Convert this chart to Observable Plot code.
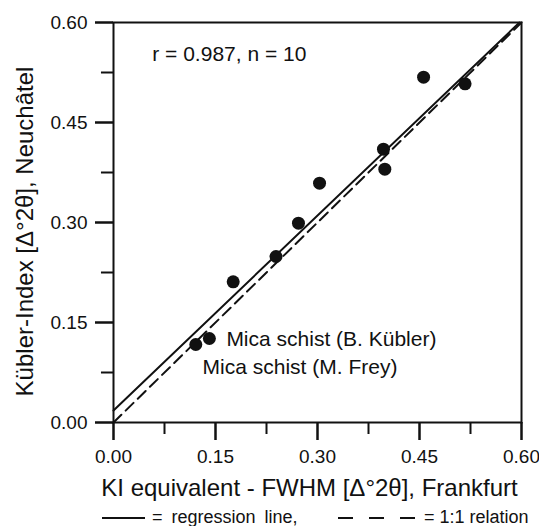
<!DOCTYPE html>
<html><head><meta charset="utf-8">
<script src="https://cdn.jsdelivr.net/npm/d3@7"></script>
<script src="https://cdn.jsdelivr.net/npm/@observablehq/plot@0.6"></script>
<style>
body{margin:0;background:#fff;font-family:"Liberation Sans",Arial,sans-serif;}
#wrap{position:relative;width:539px;height:526px;overflow:hidden;}
#legend{position:absolute;left:0;top:508px;width:539px;height:18px;font-size:18px;color:#111;}
#legend svg{position:absolute;top:0;}
#legend span{position:absolute;top:0px;line-height:19px;}
</style>
</head><body>
<div id="wrap"><div id="chart"></div>
<div id="legend"></div></div>
<script>
const kiFrankfurt = [0.121, 0.141, 0.176, 0.239, 0.272, 0.303, 0.397, 0.399, 0.456, 0.517];
const kiNeuchatel = [0.117, 0.126, 0.211, 0.249, 0.299, 0.359, 0.410, 0.380, 0.518, 0.508];
const regX = [0.0, 0.597];
const regY = [0.018, 0.600];
const oneX = [0.0, 0.60];
const oneY = [0.0, 0.60];
const majorTicks = [0, 0.15, 0.30, 0.45, 0.60];
const minorTicks = [0.075, 0.225, 0.375, 0.525];
const stats = "r = 0.987, n = 10";
const annotations = [
  {x: 0.166, y: 0.1245, text: "Mica schist (B. Kübler)"},
  {x: 0.131, y: 0.083, text: "Mica schist (M. Frey)"}
];
const xTitle = "KI equivalent - FWHM [\u0394\u00b02\u03b8], Frankfurt";
const yTitle = "Kübler-Index [\u0394\u00b02\u03b8], Neuchâtel";

const pts = kiFrankfurt.map((x, i) => ({x, y: kiNeuchatel[i]}));
const reg = regX.map((x, i) => ({x, y: regY[i]}));
const one = oneX.map((x, i) => ({x, y: oneY[i]}));

// tick lengths expressed in data units (frame is 408 x 400 px for 0.6 x 0.6)
const xMajLen = 0.027, xMinLen = 0.018;   // vertical ticks on x axis
const yMajLen = 0.0265, yMinLen = 0.0177; // horizontal ticks on y axis

const chart = Plot.plot({
  width: 539, height: 504,
  marginLeft: 113, marginRight: 18, marginTop: 22, marginBottom: 82,
  style: {fontFamily: "'Liberation Sans', Arial, sans-serif", color: "#111", background: "#fff"},
  x: {domain: [0, 0.6]},
  y: {domain: [0, 0.6]},
  marks: [
    Plot.axisX({ticks: majorTicks, tickSize: 18, tickPadding: 9, fontSize: 19, strokeWidth: 2, tickFormat: d => d.toFixed(2), label: null}),
    Plot.axisY({ticks: majorTicks, tickSize: 18, tickPadding: 8, fontSize: 19, strokeWidth: 2, tickFormat: d => d.toFixed(2), label: null}),
    Plot.ruleX(majorTicks, {x: d => d, y1: 0, y2: -xMajLen, stroke: "#111", strokeWidth: 2}),
    Plot.ruleX(minorTicks, {x: d => d, y1: 0, y2: -xMinLen, stroke: "#111", strokeWidth: 2}),
    Plot.ruleY(majorTicks, {y: d => d, x1: 0, x2: -yMajLen, stroke: "#111", strokeWidth: 2}),
    Plot.ruleY(minorTicks, {y: d => d, x1: 0, x2: -yMinLen, stroke: "#111", strokeWidth: 2}),
    Plot.text([xTitle], {frameAnchor: "bottom", lineAnchor: "middle", textAnchor: "middle", dx: -8, dy: 66, fontSize: 24, fill: "#111"}),
    Plot.text([yTitle], {frameAnchor: "left", lineAnchor: "middle", textAnchor: "middle", dx: -88, dy: 9, rotate: -90, fontSize: 24, fill: "#111"}),
    Plot.line(one, {x: "x", y: "y", stroke: "#111", strokeWidth: 2, strokeDasharray: "11,6"}),
    Plot.line(reg, {x: "x", y: "y", stroke: "#111", strokeWidth: 2}),
    Plot.dot(pts, {x: "x", y: "y", r: 6.5, fill: "#111", stroke: "none"}),
    Plot.text([stats], {x: () => 0.057, y: () => 0.553, text: d => d, textAnchor: "start", fontSize: 21, fill: "#111"}),
    Plot.text(annotations, {x: "x", y: "y", text: "text", textAnchor: "start", fontSize: 21, fill: "#111"}),
    Plot.frame({stroke: "#111", strokeWidth: 2})
  ]
});
document.getElementById("chart").appendChild(chart);

const lg = document.getElementById("legend");
lg.innerHTML = `
<svg width="539" height="18" style="left:0"><line x1="102" x2="145" y1="10" y2="10" stroke="#111" stroke-width="2"/>
<line x1="338" x2="416" y1="10" y2="10" stroke="#111" stroke-width="2" stroke-dasharray="15,16"/></svg>
<span style="left:152px;word-spacing:4px">= regression line,</span>
<span style="left:424px">= 1:1 relation</span>`;
</script>
</body></html>
